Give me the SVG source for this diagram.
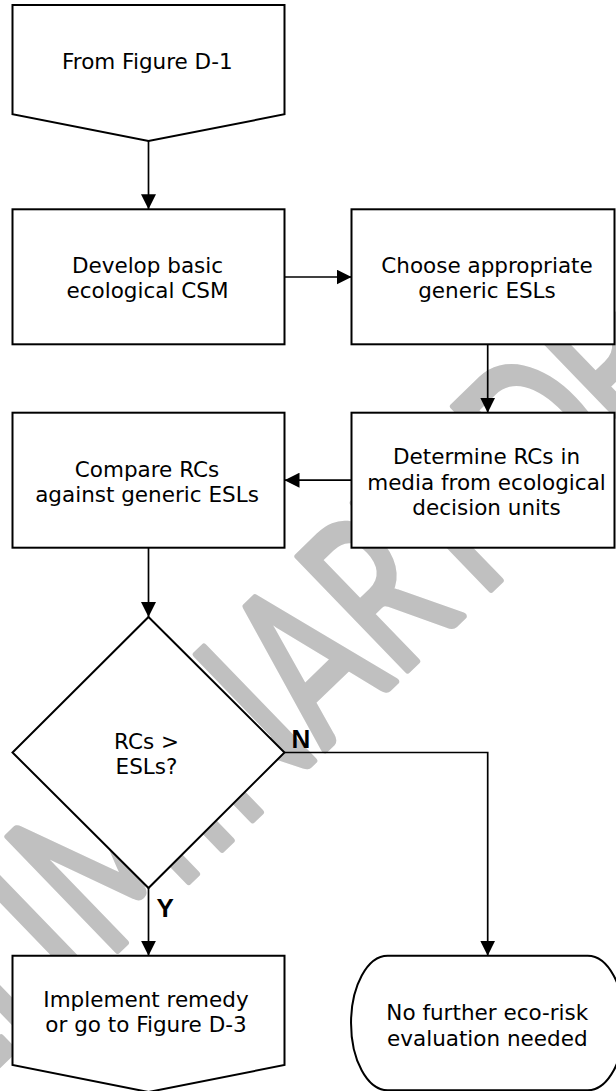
<svg xmlns="http://www.w3.org/2000/svg" width="616" height="1091" viewBox="0 0 616 1091">
<defs>
<style>
.shape{fill:#fff;stroke:#000;stroke-width:2;stroke-linejoin:miter}
.lbl{font-family:"DejaVu Sans",Verdana,sans-serif;font-size:21.5px;fill:#000;text-anchor:middle}
.yn{font-family:"Liberation Sans",Arial,sans-serif;font-size:26px;font-weight:bold;fill:#000}
.conn{fill:none;stroke:#000;stroke-width:1.7}
.wm{font-family:Lato,"Open Sans",sans-serif;font-size:220px;fill:#c0c0c0;stroke:#c0c0c0;stroke-width:7;stroke-linejoin:round;text-anchor:middle}
</style>
<marker id="ah" viewBox="0 0 15 15" refX="15" refY="7.5" markerWidth="15" markerHeight="15" markerUnits="userSpaceOnUse" orient="auto">
<path d="M0,0 L15,7.5 L0,15 z" fill="#000"/>
</marker>
</defs>
<rect width="616" height="1091" fill="#fff"/>
<g id="watermark" transform="rotate(-44) scale(0.68 1)">
<text class="wm" x="-1380.3 -1244.0 -1111.3 -994.4 -907.9 -765.6 -623.1 -507.6 -350.0 -205.7 -73.2 18.6 126.8 275.8 420.1 553.7 675.4" y="765">PRELIMINARY DRAFT</text>
</g>
<g id="from-d1">
<polygon class="shape" points="12.5,5 284.5,5 284.5,114.3 148.5,141 12.5,114.3"/>
<text class="lbl" x="147.3" y="69">From Figure D-1</text>
</g>
<g id="develop-csm">
<rect class="shape" x="12.5" y="209.3" width="272" height="135"/>
<text class="lbl" x="147.5" y="272.7">Develop basic</text>
<text class="lbl" x="147.5" y="298.3">ecological CSM</text>
</g>
<g id="choose-esls">
<rect class="shape" x="351.5" y="209.3" width="263" height="135"/>
<text class="lbl" x="487" y="272.7">Choose appropriate</text>
<text class="lbl" x="487" y="298.3">generic ESLs</text>
</g>
<g id="determine-rcs">
<rect class="shape" x="351.5" y="412.7" width="263" height="135"/>
<text class="lbl" x="486.5" y="464.3">Determine RCs in</text>
<text class="lbl" x="486.5" y="489.6">media from ecological</text>
<text class="lbl" x="486.5" y="515">decision units</text>
</g>
<g id="compare-rcs">
<rect class="shape" x="12.5" y="412.7" width="272" height="135"/>
<text class="lbl" x="147" y="476.7">Compare RCs</text>
<text class="lbl" x="147" y="502.3">against generic ESLs</text>
</g>
<g id="decision">
<polygon class="shape" points="148.5,617 284.5,752.5 148.5,888 12.5,752.5"/>
<text class="lbl" x="146.5" y="748.5">RCs &gt;</text>
<text class="lbl" x="146.5" y="774.2">ESLs?</text>
</g>
<g id="implement-remedy">
<polygon class="shape" points="12.5,955.7 284.5,955.7 284.5,1065 148.5,1092 12.5,1065"/>
<text class="lbl" x="146" y="1007">Implement remedy</text>
<text class="lbl" x="146" y="1032">or go to Figure D-3</text>
</g>
<g id="no-further">
<path class="shape" d="M387.7,955.7 H587.7 A36.7,67.3 0 0 1 587.7,1090.3 H387.7 A36.7,67.3 0 0 1 387.7,955.7 Z"/>
<text class="lbl" x="487.3" y="1020">No further eco-risk</text>
<text class="lbl" x="487.3" y="1045.8">evaluation needed</text>
</g>
<g id="connectors">
<line class="conn" x1="148.5" y1="141" x2="148.5" y2="209.3" marker-end="url(#ah)"/>
<line class="conn" x1="284.5" y1="277" x2="351.5" y2="277" marker-end="url(#ah)"/>
<line class="conn" x1="487.7" y1="344.3" x2="487.7" y2="412.7" marker-end="url(#ah)"/>
<line class="conn" x1="351.5" y1="480.2" x2="284.5" y2="480.2" marker-end="url(#ah)"/>
<line class="conn" x1="148.5" y1="547.7" x2="148.5" y2="617" marker-end="url(#ah)"/>
<path class="conn" d="M284.5,752.5 H487.7 V955.7" marker-end="url(#ah)"/>
<line class="conn" x1="148.5" y1="888" x2="148.5" y2="955.7" marker-end="url(#ah)"/>
<text class="yn" x="291.5" y="748.3">N</text>
<text class="yn" x="156.5" y="916.7">Y</text>
</g>
</svg>
